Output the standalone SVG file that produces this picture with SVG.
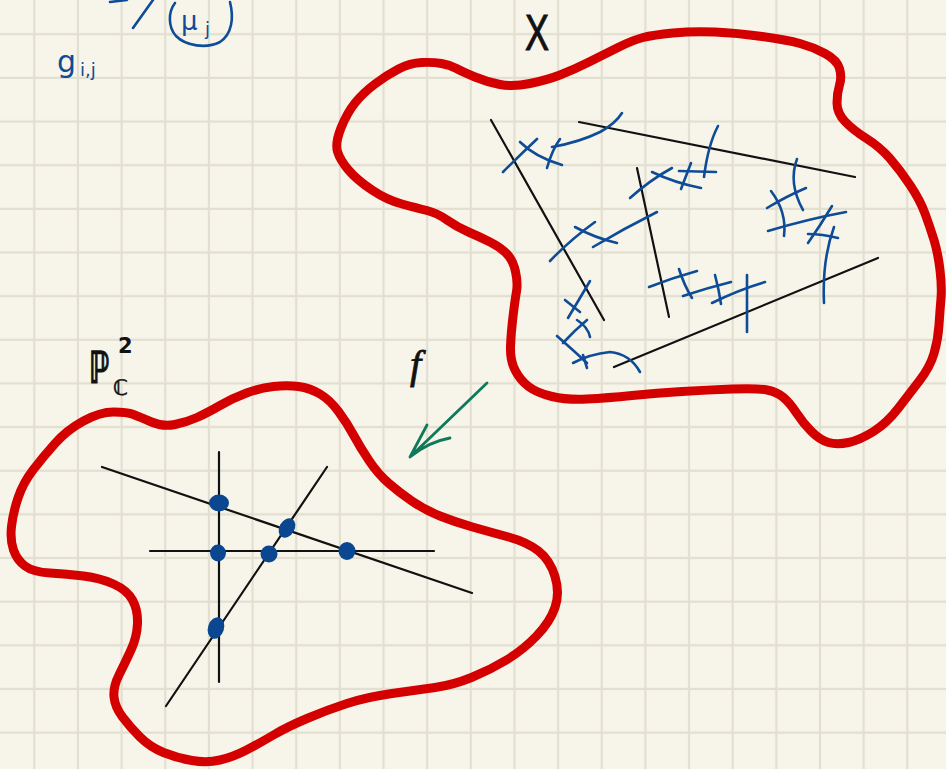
<svg xmlns="http://www.w3.org/2000/svg" width="946" height="769" viewBox="0 0 946 769">
<style>
.red{fill:none;stroke:#d40000;stroke-width:9;stroke-linejoin:round;stroke-linecap:round}
.blk{fill:none;stroke:#111;stroke-width:2.2;stroke-linecap:round}
.blu{fill:none;stroke:#0e4c97;stroke-width:2.6;stroke-linecap:round;stroke-linejoin:round}
.dot{fill:#0b4690}
.grn{fill:none;stroke:#0f7a5a;stroke-width:2.8;stroke-linecap:round;stroke-linejoin:round}
.lbl{fill:#111;font-family:"Liberation Sans","DejaVu Sans",sans-serif}
.bt{fill:#0e4c97;font-family:"DejaVu Sans",sans-serif}
</style>
<defs>
<pattern id="grid" x="12.5" y="12.5" width="43.65" height="43.65" patternUnits="userSpaceOnUse">
<path d="M21.8 0V43.65M0 21.8H43.65" stroke="#e2dfd1" stroke-width="2.2"/>
</pattern>
</defs>
<rect width="946" height="769" fill="#f7f5ea"/>
<rect width="946" height="769" fill="url(#grid)"/>

<g id="topleft">
<path class="blu" d="M110 2 L127 0 M133 28 L153 0"/>
<path class="blu" d="M230 2 C234 18 232 34 220 42 C206 49 186 46 176 36 C168 27 168 12 175 3"/>
<text class="bt" x="181" y="30" font-size="26">μ</text>
<text class="bt" x="205" y="35" font-size="18">j</text>
<text class="bt" x="57" y="72" font-size="30">g</text>
<text class="bt" x="80" y="76" font-size="18">i,j</text>
</g>

<g id="X">
<path class="red" d="M337.5 151.5 Q335 143 341 128 Q347 113 355 103 Q363 93 375 84 Q387 75 398.5 69 Q410 63 421.5 62.5 Q433 62 441.5 63.5 Q450 65 456.5 68.5 Q463 72 475 77 Q487 82 500 84.5 Q513 87 530 83.5 Q547 80 560 75 Q573 70 588 62.5 Q603 55 618 47.5 Q633 40 643 37.5 Q653 35 673 33 Q693 31 715 32 Q737 33 762 36.5 Q787 40 800 43.5 Q813 47 825 53.5 Q837 60 839.5 68.5 Q842 77 839.5 85 Q837 93 837 103 Q837 113 845 121.5 Q853 130 866.5 138.5 Q880 147 890 158.5 Q900 170 910 185 Q920 200 925 213.5 Q930 227 934 240 Q938 253 940 270 Q942 287 941 298.5 Q940 310 939 325 Q938 340 934 353.5 Q930 367 920 380 Q910 393 898.5 408 Q887 423 873.5 431.5 Q860 440 848.5 442.5 Q837 445 828.5 442.5 Q820 440 811.5 431.5 Q803 423 796.5 413 Q790 403 783.5 397.5 Q777 392 767 390 Q757 388 732 389 Q707 390 682 391.5 Q657 393 632 395.5 Q607 398 587 399 Q567 400 552 396.5 Q537 393 528.5 386.5 Q520 380 515 370 Q510 360 510.5 346.5 Q511 333 513 316.5 Q515 300 516.5 291.5 Q518 283 515.5 271.5 Q513 260 506.5 253.5 Q500 247 490 242 Q480 237 468.5 232 Q457 227 447 220 Q437 213 427 210.5 Q417 208 402 204 Q387 200 372 190 Q357 180 348.5 170 Q340 160 337.5 151.5 Z"/>
<text class="lbl" x="525" y="50" font-size="50" textLength="24" lengthAdjust="spacingAndGlyphs" stroke="#111" stroke-width="1">X</text>
</g>

<g id="P2">
<path class="red" d="M55 443.5 Q67 430 83.5 421 Q100 412 113.5 412 Q127 412 133.5 414.5 Q140 417 151.5 422 Q163 427 175 424.5 Q187 422 197 417.5 Q207 413 220 405.5 Q233 398 246.5 393 Q260 388 273.5 386.5 Q287 385 298.5 386.5 Q310 388 320 394 Q330 400 338.5 411.5 Q347 423 353.5 435 Q360 447 369 460.5 Q378 474 389 483.5 Q400 493 412.5 501.5 Q425 510 440 516 Q455 522 472.5 527 Q490 532 508.5 537 Q527 542 538.5 551 Q550 560 555 576.5 Q560 593 555 607.5 Q550 622 536.5 636 Q523 650 506.5 660 Q490 670 471.5 677.5 Q453 685 435 687.5 Q417 690 392 693.5 Q367 697 347 703.5 Q327 710 307 718.5 Q287 727 273.5 735 Q260 743 246.5 750 Q233 757 220 760 Q207 763 192 760.5 Q177 758 163.5 752.5 Q150 747 140 737 Q130 727 122.5 717 Q115 707 114 697 Q113 687 119 675 Q125 663 131 650 Q137 637 137.5 623.5 Q138 610 132.5 600 Q127 590 113.5 584 Q100 578 83.5 576 Q67 574 50 573 Q33 572 25 566 Q17 560 13.5 550 Q10 540 11.5 526.5 Q13 513 18 498 Q23 483 33 470 Q43 457 55 443.5 Z"/>
<text transform="translate(89 383) scale(0.62 1)" font-family="'DejaVu Sans',sans-serif" font-size="44" font-weight="bold" fill="#111" stroke="#111" stroke-width="1.2">ℙ</text>
<text x="118" y="353" font-family="'DejaVu Sans',sans-serif" font-size="21" font-weight="bold" fill="#111">2</text>
<text x="113" y="395" font-family="'DejaVu Sans',sans-serif" font-size="21" fill="#111" stroke="#111" stroke-width="0.6">ℂ</text>
</g>

<g id="lines-X">
<path class="blk" d="M491 120 L604 320 M579 122 L855 177 M637 168 L669 317 M614 367 L878 258"/>
</g>

<g id="marks-X">
<path class="blu" d="M503 172 Q520 155 537 139"/>
<path class="blu" d="M520 142 Q535 157 562 165"/>
<path class="blu" d="M560 139 Q552 150 547 168"/>
<path class="blu" d="M552 147 Q580 142 600 132 Q615 124 622 113"/>
<path class="blu" d="M550 261 Q570 240 595 222"/>
<path class="blu" d="M575 227 Q595 238 617 243"/>
<path class="blu" d="M593 247 Q625 228 657 212"/>
<path class="blu" d="M630 198 Q650 180 672 168"/>
<path class="blu" d="M652 172 Q675 183 701 188"/>
<path class="blu" d="M691 163 L681 189"/>
<path class="blu" d="M679 171 L716 172"/>
<path class="blu" d="M718 126 Q708 145 704 177"/>
<path class="blu" d="M649 287 Q672 278 697 271"/>
<path class="blu" d="M679 269 Q684 285 692 298"/>
<path class="blu" d="M683 296 Q707 288 731 282"/>
<path class="blu" d="M715 275 Q719 290 721 304"/>
<path class="blu" d="M712 303 Q738 290 765 282"/>
<path class="blu" d="M747 275 L747 332"/>
<path class="blu" d="M797 159 Q788 183 803 210"/>
<path class="blu" d="M767 208 Q787 196 806 188"/>
<path class="blu" d="M771 191 Q787 212 784 236"/>
<path class="blu" d="M768 231 Q808 219 846 212"/>
<path class="blu" d="M832 206 Q820 226 808 243"/>
<path class="blu" d="M808 234 Q822 234 838 238"/>
<path class="blu" d="M834 227 Q822 260 824 303"/>
<path class="blu" d="M568 318 Q580 298 590 281"/>
<path class="blu" d="M565 300 L580 312"/>
<path class="blu" d="M563 343 Q575 330 587 320"/>
<path class="blu" d="M577 320 Q588 327 590 337"/>
<path class="blu" d="M557 336 Q573 350 587 363"/>
<path class="blu" d="M573 363 Q590 354 610 352 Q630 354 640 372"/>
<path class="blu" d="M583 355 L587 368"/>
</g>

<g id="lines-P2">
<path class="blk" d="M102 467 L472 593 M150 551 L434 551 M219 452 L219 682 M327 467 L166 706"/>
<ellipse class="dot" cx="219" cy="503" rx="10" ry="8.5"/>
<ellipse class="dot" cx="287" cy="528" rx="7.5" ry="10.5" transform="rotate(30 287 528)"/>
<ellipse class="dot" cx="218" cy="553" rx="8" ry="8.5"/>
<ellipse class="dot" cx="269" cy="554" rx="8.5" ry="8.5"/>
<ellipse class="dot" cx="347" cy="551" rx="8.5" ry="9"/>
<ellipse class="dot" cx="216" cy="628" rx="8" ry="11" transform="rotate(18 216 628)"/>
</g>

<g id="arrow-f">
<path class="grn" d="M487 383 L410 457 L427 425 M410 457 Q428 442 450 438"/>
<text x="410" y="378" font-family="'Liberation Serif',serif" font-style="italic" font-size="40" fill="#111" stroke="#111" stroke-width="0.8">f</text>
</g>
</svg>
